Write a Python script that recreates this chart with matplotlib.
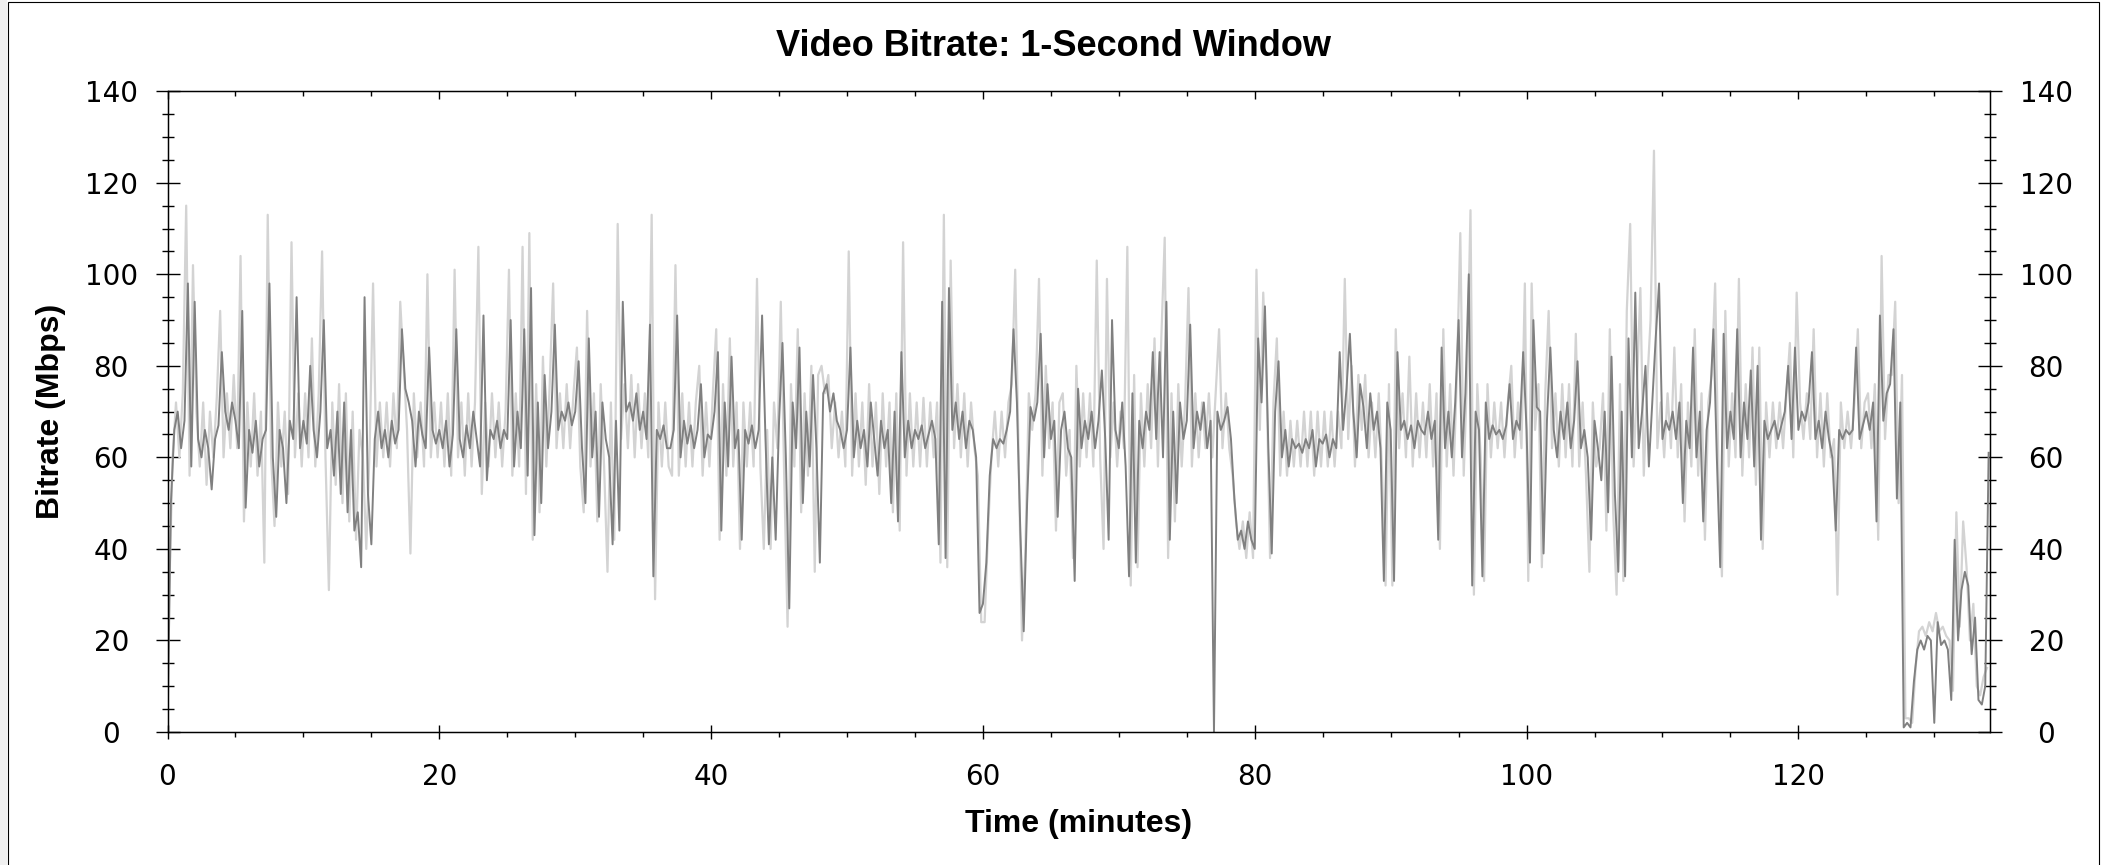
import numpy as np
import matplotlib
matplotlib.use("Agg")
import matplotlib.pyplot as plt
from matplotlib.ticker import MultipleLocator
from matplotlib.patches import Rectangle

# Débit vidéo, fenêtre de 1 s, un point toutes les 15 s
# une ligne = 5 minutes
rate_dark = [
    0, 50, 66, 70, 62, 68, 98, 58, 94, 64, 60, 66, 62, 53, 64, 67, 83, 70, 66, 72,
    68, 62, 92, 49, 66, 61, 68, 58, 64, 66, 98, 60, 47, 66, 62, 50, 68, 64, 95, 62,
    68, 63, 80, 66, 60, 70, 90, 62, 66, 56, 70, 52, 72, 48, 66, 44, 48, 36, 95, 52,
    41, 64, 70, 62, 66, 60, 68, 63, 66, 88, 75, 72, 68, 58, 70, 65, 62, 84, 66, 63,
    66, 62, 68, 58, 65, 88, 64, 60, 67, 62, 70, 64, 58, 91, 55, 66, 64, 68, 62, 66,
    64, 90, 58, 70, 62, 88, 56, 97, 43, 72, 50, 78, 62, 70, 89, 66, 70, 68, 72, 67,
    70, 81, 62, 50, 86, 60, 70, 47, 72, 64, 60, 41, 68, 44, 94, 70, 72, 68, 74, 66,
    70, 64, 89, 34, 66, 64, 67, 62, 62, 66, 91, 60, 68, 63, 67, 62, 66, 76, 60, 65,
    64, 70, 83, 44, 72, 58, 82, 62, 66, 42, 66, 63, 67, 62, 66, 91, 64, 41, 60, 42,
    68, 85, 60, 27, 72, 62, 84, 50, 70, 58, 78, 62, 37, 74, 76, 70, 74, 68, 66, 62,
    66, 84, 60, 68, 62, 66, 58, 72, 64, 56, 68, 62, 66, 50, 70, 46, 83, 60, 68, 62,
    66, 64, 67, 62, 65, 68, 64, 41, 94, 38, 97, 66, 72, 64, 70, 62, 68, 66, 60, 26,
    28, 37, 56, 64, 62, 64, 63, 66, 70, 88, 72, 44, 22, 50, 71, 68, 72, 87, 60, 76,
    64, 68, 47, 66, 70, 62, 60, 33, 75, 62, 68, 64, 70, 62, 68, 79, 64, 42, 90, 66,
    62, 72, 58, 34, 74, 37, 68, 62, 70, 66, 83, 64, 83, 60, 94, 42, 70, 50, 72, 64,
    68, 89, 62, 70, 66, 72, 62, 68, 0, 70, 66, 68, 71, 64, 51, 42, 44, 40, 46, 42,
    40, 86, 72, 93, 62, 39, 70, 81, 60, 66, 58, 64, 62, 63, 61, 64, 62, 66, 58, 64,
    63, 65, 60, 64, 62, 83, 66, 75, 87, 70, 60, 76, 71, 62, 74, 66, 70, 62, 33, 72,
    66, 33, 83, 66, 68, 64, 67, 62, 68, 66, 65, 70, 64, 68, 42, 84, 62, 70, 60, 72,
    90, 60, 74, 100, 32, 70, 66, 34, 72, 64, 67, 65, 66, 64, 67, 76, 64, 68, 66, 83,
    66, 37, 90, 71, 70, 39, 68, 84, 66, 60, 70, 64, 72, 62, 68, 81, 62, 66, 60, 42,
    68, 62, 55, 70, 48, 82, 52, 35, 70, 34, 86, 60, 96, 62, 70, 80, 58, 72, 86, 98,
    64, 68, 66, 70, 64, 72, 50, 68, 62, 84, 60, 70, 46, 66, 72, 88, 60, 36, 87, 62,
    70, 64, 88, 60, 72, 64, 79, 58, 80, 42, 68, 64, 66, 68, 64, 67, 70, 80, 64, 84,
    66, 70, 68, 72, 83, 64, 68, 62, 70, 64, 60, 44, 66, 64, 66, 65, 66, 84, 64, 67,
    70, 66, 72, 46, 91, 68, 74, 76, 88, 51, 72, 1, 2, 1, 11, 18, 20, 18, 21, 20,
    2, 24, 19, 20, 18, 7, 42, 20, 31, 35, 32, 17, 25, 7, 6, 10, 61,
]

# courbe claire, décalée de 7.5 s
rate_light = [
    30, 60, 72, 60, 74, 115, 56, 102, 70, 58, 72, 54, 70, 60, 73, 92, 60, 74, 62, 78,
    62, 104, 46, 72, 58, 74, 56, 70, 37, 113, 60, 45, 72, 58, 70, 52, 107, 60, 74, 58,
    74, 60, 86, 58, 74, 105, 60, 31, 72, 54, 76, 50, 74, 46, 70, 42, 66, 60, 40, 62,
    98, 58, 72, 60, 72, 58, 74, 62, 94, 80, 66, 39, 74, 60, 72, 58, 100, 60, 72, 60,
    72, 58, 74, 56, 101, 60, 72, 56, 74, 58, 72, 106, 52, 72, 58, 74, 60, 72, 58, 70,
    101, 56, 74, 58, 106, 52, 109, 42, 76, 48, 82, 58, 76, 98, 62, 74, 62, 76, 62, 74,
    84, 58, 48, 92, 58, 74, 46, 76, 58, 35, 72, 42, 111, 64, 76, 62, 78, 60, 76, 62,
    74, 60, 113, 29, 72, 58, 72, 58, 56, 102, 56, 74, 58, 72, 58, 72, 80, 56, 72, 58,
    74, 88, 42, 76, 56, 86, 58, 72, 40, 72, 58, 72, 58, 99, 58, 40, 66, 40, 72, 62,
    94, 56, 23, 76, 58, 88, 48, 74, 56, 80, 35, 78, 80, 74, 78, 62, 72, 60, 70, 58,
    105, 56, 74, 58, 72, 54, 76, 58, 72, 52, 74, 58, 72, 48, 74, 44, 107, 56, 74, 58,
    72, 58, 73, 58, 72, 60, 72, 37, 113, 36, 103, 62, 76, 60, 74, 58, 72, 62, 56, 24,
    24, 44, 60, 70, 58, 70, 60, 72, 76, 101, 60, 20, 40, 74, 66, 74, 99, 56, 80, 62,
    72, 44, 72, 74, 56, 66, 38, 80, 58, 74, 60, 74, 58, 103, 60, 40, 99, 60, 72, 58,
    70, 62, 106, 32, 78, 36, 74, 58, 76, 62, 86, 58, 86, 108, 38, 74, 46, 76, 58, 72,
    97, 58, 74, 60, 72, 62, 74, 60, 74, 88, 62, 74, 62, 56, 46, 40, 46, 38, 48, 38,
    101, 66, 96, 76, 38, 72, 86, 56, 70, 56, 68, 58, 68, 58, 70, 58, 70, 56, 70, 58,
    70, 58, 70, 58, 70, 62, 99, 64, 80, 58, 78, 66, 78, 60, 72, 60, 74, 56, 32, 76,
    32, 88, 62, 74, 60, 82, 58, 74, 60, 72, 60, 76, 58, 74, 40, 88, 58, 76, 56, 78,
    109, 56, 78, 114, 30, 76, 60, 33, 76, 60, 72, 62, 72, 60, 72, 80, 60, 72, 62, 98,
    33, 98, 66, 76, 36, 74, 92, 62, 74, 58, 76, 60, 76, 58, 87, 58, 72, 56, 35, 72,
    58, 62, 74, 44, 88, 48, 30, 76, 33, 92, 111, 58, 76, 97, 56, 76, 90, 127, 62, 72,
    60, 74, 62, 84, 60, 76, 46, 72, 58, 88, 56, 74, 42, 72, 78, 98, 56, 34, 92, 58,
    74, 60, 99, 56, 76, 60, 84, 54, 84, 40, 72, 60, 72, 62, 72, 62, 74, 85, 60, 96,
    72, 64, 74, 64, 88, 60, 74, 58, 74, 60, 64, 30, 72, 62, 70, 62, 72, 88, 62, 72,
    74, 62, 76, 42, 104, 64, 78, 78, 94, 50, 78, 3, 3, 2, 14, 22, 23, 21, 24, 22,
    26, 22, 23, 21, 20, 9, 48, 23, 46, 36, 20, 28, 10, 8, 12, 14,
]

x_ticks = [0, 20, 40, 60, 80, 100, 120]
y_ticks = [0, 20, 40, 60, 80, 100, 120, 140]

t_dark = np.arange(len(rate_dark)) * 0.25
t_light = np.arange(len(rate_light)) * 0.25 + 0.125

W, H = 2101, 865
fig = plt.figure(figsize=(W / 100, H / 100), dpi=100)

# cadre de la figure
fig.patches.append(Rectangle((0, 0), 7 / W, 1, transform=fig.transFigure,
                             facecolor="#f0f0f0", edgecolor="none"))
fig.patches.append(Rectangle((7.5 / W, -0.01), 2091 / W, 1.01 - 1.5 / H,
                             transform=fig.transFigure, facecolor="none",
                             edgecolor="black", lw=0.8))

ax = fig.add_axes([167.5 / W, 1 - 732 / H, (1990 - 167.5) / W, (732 - 91.2) / H])
ax.plot(t_light, rate_light, color="#d3d3d3", lw=1.6)
ax.plot(t_dark, rate_dark, color="#808080", lw=1.4)

ax.set_xlim(0, 134.1)
ax.set_ylim(0, 140)
ax.set_xticks(x_ticks)
ax.set_yticks(y_ticks)
ax.xaxis.set_minor_locator(MultipleLocator(5))
ax.yaxis.set_minor_locator(MultipleLocator(5))

ax.tick_params(axis="x", which="major", direction="inout", length=10, width=1,
               labelsize=20, pad=17)
ax.tick_params(axis="x", which="minor", direction="out", length=3.5, width=1)
ax.tick_params(axis="y", which="major", direction="inout", length=17, width=1,
               left=True, right=True, labelleft=True, labelright=True,
               labelsize=20, pad=32)
ax.tick_params(axis="y", which="minor", direction="inout", length=8, width=1,
               left=True, right=True)
for lab in ax.yaxis.get_majorticklabels():
    lab.set_horizontalalignment("center")
for s in ax.spines.values():
    s.set_linewidth(1.0)

# petites graduations vers l'intérieur en haut
axt = ax.twiny()
axt.set_xlim(ax.get_xlim())
axt.set_xticks(x_ticks)
axt.xaxis.set_minor_locator(MultipleLocator(5))
axt.tick_params(axis="x", which="major", direction="in", length=6, width=1, labeltop=False)
axt.tick_params(axis="x", which="minor", direction="in", length=3.5, width=1)

bold = dict(family="Liberation Sans", weight="bold", fontsize=23)
fig.text(1053 / W, 1 - 46 / H, "Video Bitrate: 1-Second Window", ha="center", va="center",
         family="Liberation Sans", weight="bold", fontsize=26)
ax.set_xlabel("Time (minutes)", va="center", **bold)
ax.xaxis.set_label_coords(0.5, (732 - 824) / (732 - 91.2))
ax.set_ylabel("Bitrate (Mbps)", va="center", **bold)
ax.yaxis.set_label_coords((51 - 167.5) / (1990 - 167.5), 0.5)

fig.savefig("out.png", dpi=100)
